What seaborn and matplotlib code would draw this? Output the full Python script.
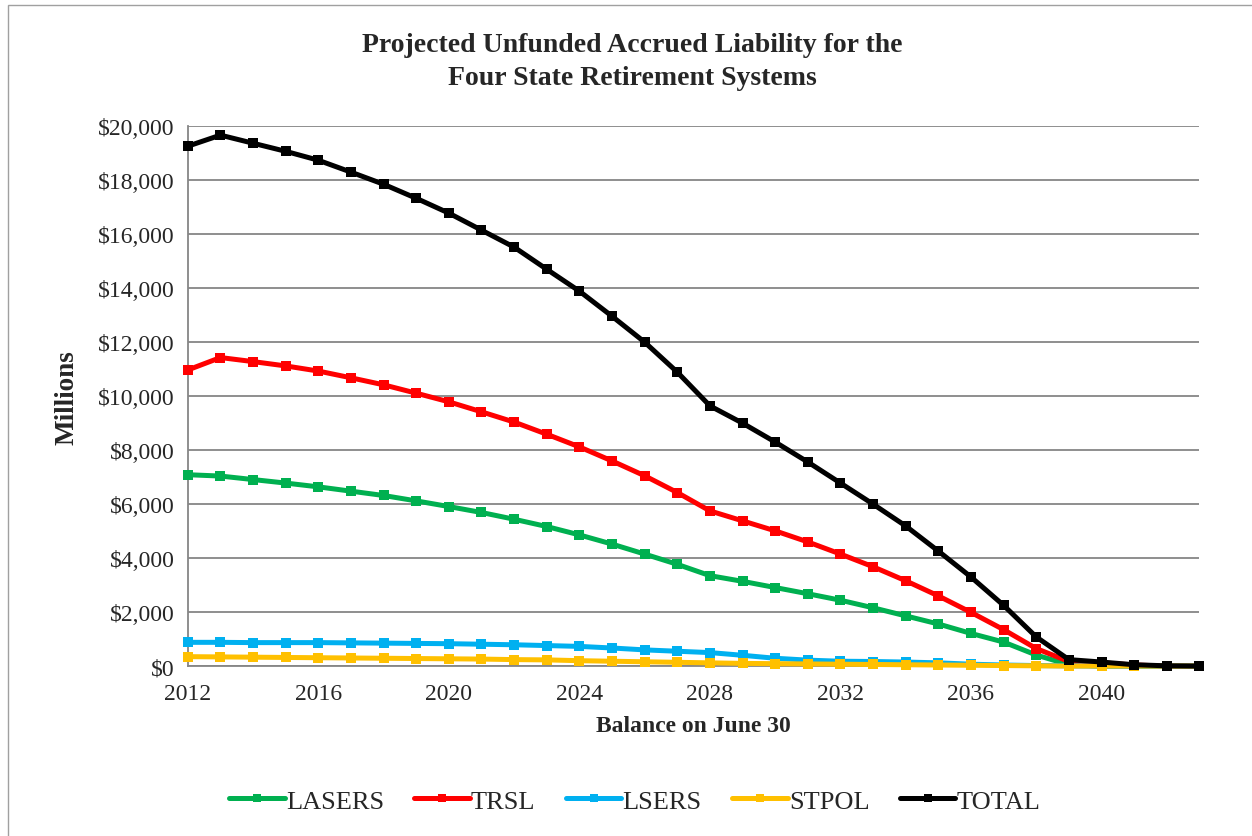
import numpy as np
import pandas as pd
import matplotlib
matplotlib.use('Agg')
import matplotlib.pyplot as plt
import seaborn as sns
from matplotlib.ticker import FuncFormatter, MultipleLocator
from matplotlib.patches import Rectangle

years = list(range(2012, 2044))

lasers = [7090, 7040, 6910, 6780, 6640, 6480, 6320, 6120, 5910, 5690, 5440, 5170,
          4860, 4520, 4150, 3770, 3350, 3140, 2910, 2680, 2440, 2160, 1860, 1560,
          1210, 890, 410, 50, 0, 0, 0, 0]
trsl = [10970, 11430, 11280, 11120, 10930, 10680, 10420, 10110, 9790, 9420, 9040, 8590,
        8120, 7600, 7050, 6430, 5750, 5380, 5010, 4600, 4150, 3680, 3160, 2600,
        1990, 1350, 650, 170, 120, 40, 0, 0]
lsers = [880, 880, 870, 870, 870, 860, 850, 840, 830, 810, 790, 760,
         730, 670, 600, 550, 500, 400, 290, 220, 180, 170, 150, 120,
         70, 40, 20, 10, 0, 0, 0, 0]
stpol = [350, 340, 330, 320, 310, 300, 290, 280, 270, 260, 240, 230,
         200, 180, 160, 140, 120, 100, 90, 80, 70, 60, 50, 40,
         30, 20, 10, 0, 0, 0, 0, 0]
total = [19260, 19670, 19370, 19070, 18740, 18300, 17850, 17330, 16780, 16150, 15520, 14700,
         13890, 12960, 12000, 10890, 9640, 9000, 8300, 7560, 6780, 6000, 5190, 4260,
         3300, 2250, 1080, 240, 150, 50, 10, 0]

series = ['LASERS', 'TRSL', 'LSERS', 'STPOL', 'TOTAL']
colors = {'LASERS': '#00B050', 'TRSL': '#FF0000', 'LSERS': '#00B0F0',
          'STPOL': '#FFC000', 'TOTAL': '#000000'}

df = pd.DataFrame({'year': years * 5,
                   'value': lasers + trsl + lsers + stpol + total,
                   'series': sum([[s] * len(years) for s in series], [])})

sns.set_style('white')
plt.rcParams['font.family'] = ['Liberation Serif', 'DejaVu Serif']

fig = plt.figure(figsize=(12.52, 8.37), dpi=100)
ax = fig.add_axes([0.150, 0.203, 0.808, 0.645])

for s in series:
    sub = df[df.series == s]
    sns.lineplot(data=sub, x='year', y='value', ax=ax, color=colors[s],
                 lw=3.6, marker='s', markersize=7.5,
                 markeredgewidth=0, label=s, legend=False, clip_on=False)

ax.set_xlim(2012, 2043)
ax.set_ylim(0, 20000)
ax.xaxis.set_major_locator(MultipleLocator(4))
ax.xaxis.set_minor_locator(MultipleLocator(1))
ax.yaxis.set_major_locator(MultipleLocator(2000))
ax.yaxis.set_major_formatter(FuncFormatter(lambda v, p: f'${v:,.0f}'))
ax.grid(axis='y', color='#868686', lw=1.3)
ax.set_axisbelow(True)
for side in ['top', 'right']:
    ax.spines[side].set_visible(False)
for side in ['left', 'bottom']:
    ax.spines[side].set_color('#868686')
    ax.spines[side].set_linewidth(1.3)
    ax.spines[side].set_zorder(0.5)
ax.tick_params(axis='both', which='both', direction='out', color='#868686',
               labelsize=17, width=1.3)
ax.tick_params(axis='x', which='major', length=6, pad=6)
ax.tick_params(axis='x', which='minor', length=6)
ax.tick_params(axis='y', length=6)

ax.set_xlabel('Balance on June 30', fontsize=17, fontweight='bold', labelpad=8)
ax.set_ylabel('Millions', fontsize=19.5, fontweight='bold', labelpad=13)
fig.text(0.505, 0.926, 'Projected Unfunded Accrued Liability for the\nFour State Retirement Systems',
         ha='center', va='center', fontsize=20, fontweight='bold', linespacing=1.4)

handles, labels = ax.get_legend_handles_labels()
fig.legend(handles, labels, loc='center', bbox_to_anchor=(0.507, 0.042), ncol=5,
           frameon=False, fontsize=19, handlelength=2.1, handletextpad=0.05,
           columnspacing=1.15, markerscale=0.8)

fig.patches.append(Rectangle((0.006, -0.01), 1.1, 1.003, transform=fig.transFigure,
                             fill=False, edgecolor='#A0A0A0', lw=1))

fig.savefig('out.png', dpi=100)
